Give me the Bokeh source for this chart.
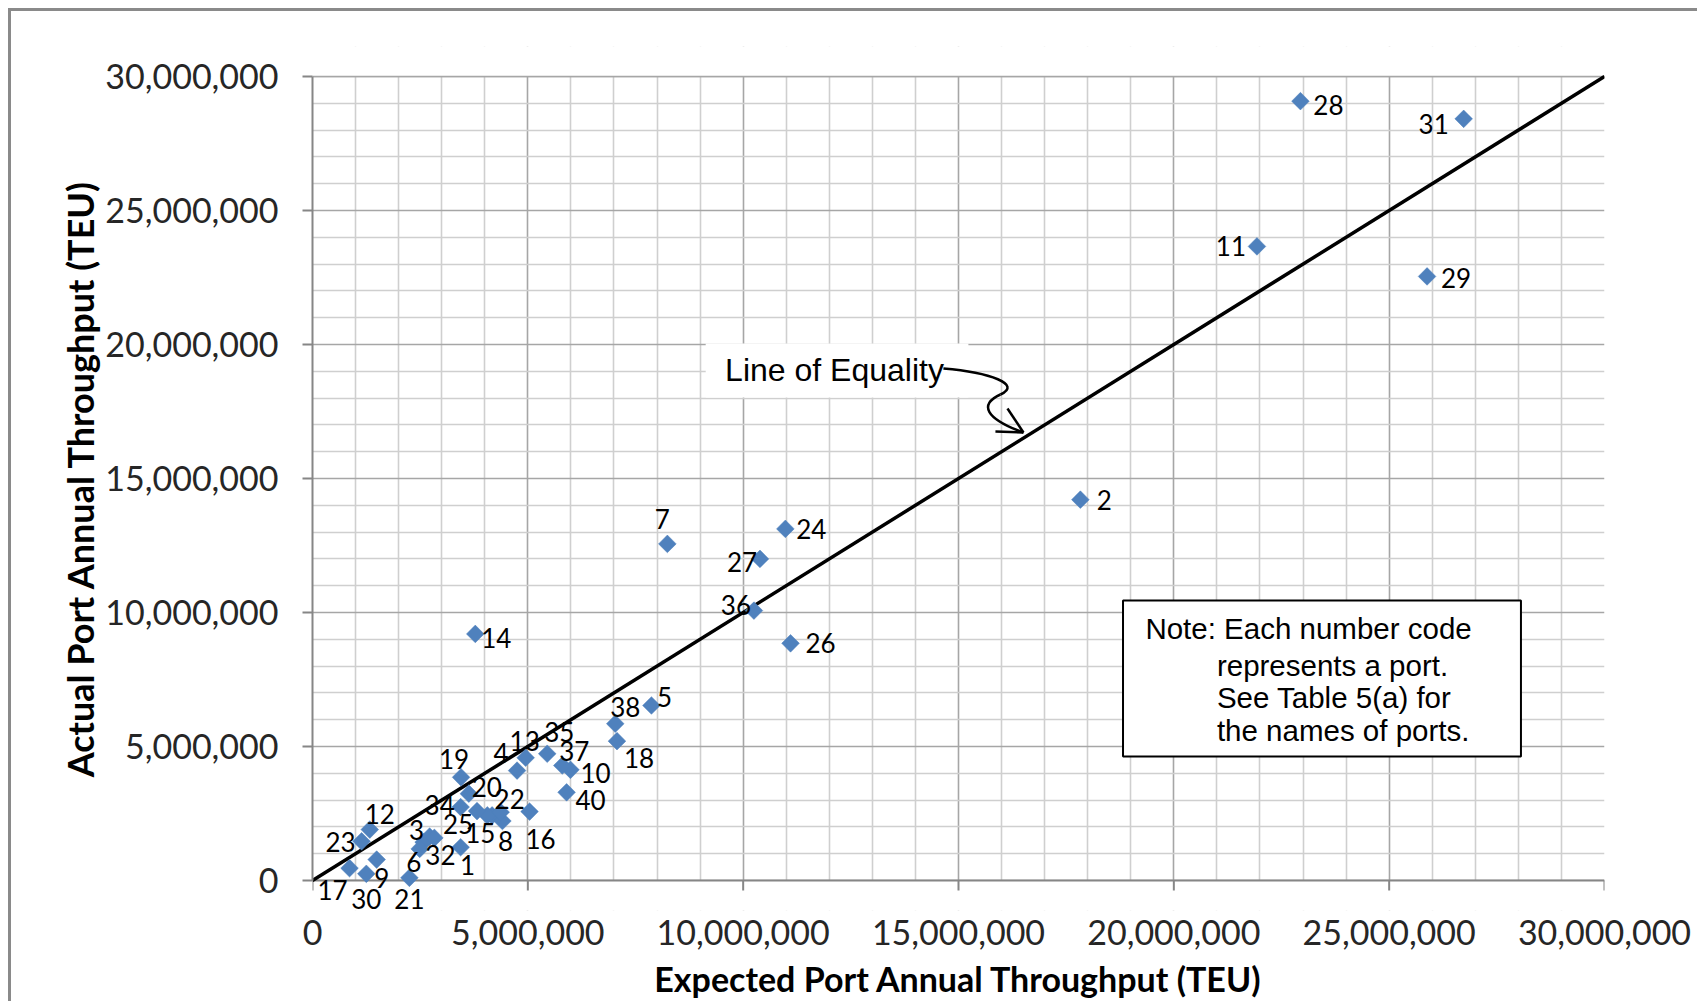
import numpy as np
from bokeh.plotting import figure
from bokeh.models import Range1d, FixedTicker, ColumnDataSource, LabelSet
from bokeh.core.properties import value
from bokeh.embed import file_html
from bokeh.resources import INLINE

# ---------------- data (TEU) ----------------
port_codes = ["1", "2", "3", "4", "5", "6", "7", "8", "9", "10",
              "11", "12", "13", "14", "15", "16", "17", "18", "19", "20",
              "21", "22", "23", "24", "25", "26", "27", "28", "29", "30",
              "31", "32", "34", "35", "36", "37", "38", "40"]
expected_teu = [3440000, 17830000, 2580000, 4750000, 7870000, 2490000, 8240000, 4410000, 1490000, 5990000,
                21930000, 1330000, 4950000, 3780000, 4060000, 5040000, 860000, 7070000, 3450000, 3630000,
                2250000, 4370000, 1140000, 10980000, 3820000, 11100000, 10390000, 22940000, 25880000, 1250000,
                26730000, 2830000, 3440000, 5450000, 10250000, 5800000, 7030000, 5900000]
actual_teu = [1240000, 14210000, 1430000, 4100000, 6530000, 1180000, 12560000, 2220000, 780000, 4130000,
              23660000, 1900000, 4580000, 9200000, 2430000, 2570000, 460000, 5200000, 3850000, 3240000,
              100000, 2550000, 1460000, 13120000, 2590000, 8850000, 12000000, 29080000, 22540000, 250000,
              28420000, 1590000, 2740000, 4730000, 10070000, 4290000, 5850000, 3290000]
# markers visible without a number label
unlabeled_expected = [2720000, 4170000]
unlabeled_actual = [1640000, 2430000]

axis_max = 30000000
tick_values = [0, 5000000, 10000000, 15000000, 20000000, 25000000, 30000000]
tick_labels = ["0", "5,000,000", "10,000,000", "15,000,000", "20,000,000", "25,000,000", "30,000,000"]
minor_values = [v * 1000000 for v in range(1, 30) if v % 5 != 0]

x_title = "Expected Port Annual Throughput (TEU)"
y_title = "Actual Port Annual Throughput (TEU)"
equality_text = "Line of Equality"
note_lines = ["Note: Each number code", "represents a port.", "See Table 5(a) for", "the names of ports."]

# ---------------- layout ----------------
PLOT_H = 804            # pixel height of the 0..30M data area
EXTRA = 30              # extra frame pixels above 30M and below 0 (keeps labels under the axis unclipped)
PX_PER_UNIT = PLOT_H / axis_max
y_min = -EXTRA / PX_PER_UNIT
y_max = axis_max + EXTRA / PX_PER_UNIT
TICK_LEN = 10 / PX_PER_UNIT
TOP_BORDER = 76 - 11 - EXTRA
TOTAL_H = 983

# label placement (pixel offsets of each code from its marker; +dy = down)
label_offsets = {
    "28": (28, 4), "31": (-30, 5), "11": (-26, 0), "29": (29, 2), "2": (24, 0), "24": (26, 0),
    "7": (-5, -25), "27": (-18, 3), "36": (-18, -6), "26": (30, 0), "14": (21, 4), "5": (13, -8),
    "38": (10, -17), "18": (22, 17), "35": (12, -22), "13": (-1, -17), "4": (-16, -18), "37": (12, -15),
    "10": (25, 3), "40": (24, 8), "19": (-7, -18), "20": (18, -7), "34": (-21, -2), "25": (-19, 13),
    "15": (-7, 18), "22": (9, -13), "8": (3, 20), "16": (11, 27), "1": (7, 18), "6": (-6, 13),
    "3": (-7, -12), "32": (6, 17), "21": (0, 21), "17": (-17, 22), "30": (0, 25), "9": (5, 18),
    "23": (-21, 1), "12": (10, -16),
}

src = ColumnDataSource(dict(
    x=expected_teu, y=actual_teu, label=port_codes,
    dx=[label_offsets[c][0] for c in port_codes],
    dy=[-label_offsets[c][1] for c in port_codes],
))

p = figure(
    frame_width=1292, frame_height=PLOT_H + 2 * EXTRA,
    min_border_left=301, min_border_right=93, min_border_top=TOP_BORDER,
    min_border_bottom=TOTAL_H - TOP_BORDER - PLOT_H - 2 * EXTRA,
    x_range=Range1d(0, axis_max), y_range=Range1d(y_min, y_max),
    output_backend="svg", toolbar_location=None,
    background_fill_color="white", border_fill_color="white",
)
p.styles = {"margin-left": "8px", "margin-top": "8px",
            "border-left": "3px solid #8a8a8a", "border-top": "3px solid #8a8a8a"}
p.outline_line_color = None

for ax in (p.xaxis[0], p.yaxis[0]):
    ax.ticker = FixedTicker(ticks=tick_values, minor_ticks=minor_values)
    ax.major_label_overrides = {v: s for v, s in zip(tick_values, tick_labels)}
    ax.bounds = (0, axis_max)
    ax.axis_line_color = "#868686"
    ax.axis_line_width = 2
    ax.major_tick_line_color = "#868686"
    ax.major_tick_line_width = 2
    ax.major_tick_out = 10
    ax.major_tick_in = 0
    ax.minor_tick_line_color = None
    ax.major_label_text_font = "Lato"
    ax.major_label_text_font_size = "34px"
    ax.major_label_text_color = "#262626"
    ax.axis_label_text_font = "Lato"
    ax.axis_label_text_font_style = "bold"
    ax.axis_label_text_color = "black"

p.xaxis.axis_label = x_title
p.yaxis.axis_label = y_title
p.xaxis.axis_label_text_font_size = "34px"
p.yaxis.axis_label_text_font_size = "36px"
# x axis sits at the bottom of the extended frame; its rule and ticks are drawn at y=0 below
p.xaxis.axis_line_color = None
p.xaxis.major_tick_line_color = None
p.xaxis.major_tick_out = 0
p.xaxis.major_label_standoff = 5
p.xaxis.axis_label_standoff = 10
p.yaxis.major_label_standoff = 24
p.yaxis.axis_label_standoff = 0

for g in (p.xgrid[0], p.ygrid[0]):
    g.grid_line_color = "#a6a6a6"
    g.grid_line_width = 1.6
    g.minor_grid_line_color = "#cfcfcf"
    g.minor_grid_line_width = 1.6

# mask the grid outside 0..30M vertically, then draw the x-axis rule and its ticks at y=0
p.quad(left=[0, 0], right=[axis_max, axis_max], bottom=[y_min, axis_max], top=[0, y_max],
       fill_color="white", line_color=None)
p.line([0, axis_max], [axis_max, axis_max], line_color="#a6a6a6", line_width=1.6)
p.segment(x0=tick_values, y0=[0] * len(tick_values), x1=tick_values, y1=[-TICK_LEN] * len(tick_values),
          line_color="#868686", line_width=2)
p.line([0, axis_max], [0, 0], line_color="#868686", line_width=2)

# line of equality
p.line([0, axis_max], [0, axis_max], line_color="black", line_width=3.5)

# "Line of Equality" callout (positions in data units)
p.quad(left=[9.13e6], right=[15.23e6], top=[20.04e6], bottom=[18.02e6],
       fill_color="white", line_color=None)
p.text(x=[9.58e6], y=[19.03e6], text=[equality_text], text_align="left", text_baseline="middle",
       text_font=value("Liberation Sans"), text_font_size=value("32px"), text_color="black")
p.bezier(x0=[14.65e6, 15.974e6], y0=[19.104e6, 18.134e6],
         x1=[15.974e6, 16.508e6], y1=[18.134e6, 16.716e6],
         cx0=[15.742e6, 15.463e6], cy0=[18.955e6, 17.761e6],
         cx1=[16.485e6, 15.626e6], cy1=[18.507e6, 17.239e6],
         line_color="black", line_width=2.5)
p.segment(x0=[16.508e6, 16.508e6], y0=[16.716e6, 16.716e6],
          x1=[16.137e6, 15.858e6], y1=[17.612e6, 16.754e6],
          line_color="black", line_width=2.5)

# note box
p.quad(left=[18.82e6], right=[28.06e6], top=[10.45e6], bottom=[4.63e6],
       fill_color="white", line_color="black", line_width=2)
p.text(x=[19.34e6, 21.0e6, 21.0e6, 21.0e6], y=[9.40e6, 8.02e6, 6.83e6, 5.60e6], text=note_lines,
       text_align="left", text_baseline="middle",
       text_font=value("Liberation Sans"), text_font_size=value("29.5px"), text_color="black")

# markers
p.scatter(unlabeled_expected, unlabeled_actual, marker="square", size=12.5, angle=np.pi / 4,
          fill_color="#4f81bd", line_color="#4f81bd", line_width=0.5)
p.scatter("x", "y", source=src, marker="square", size=12.5, angle=np.pi / 4,
          fill_color="#4f81bd", line_color="#4f81bd", line_width=0.5)

p.add_layout(LabelSet(x="x", y="y", text="label", source=src, x_offset="dx", y_offset="dy",
                      text_align="center", text_baseline="middle",
                      text_font=value("Lato"), text_font_size=value("26px"), text_color="black"))

open("out.html", "w").write(file_html(p, INLINE))
